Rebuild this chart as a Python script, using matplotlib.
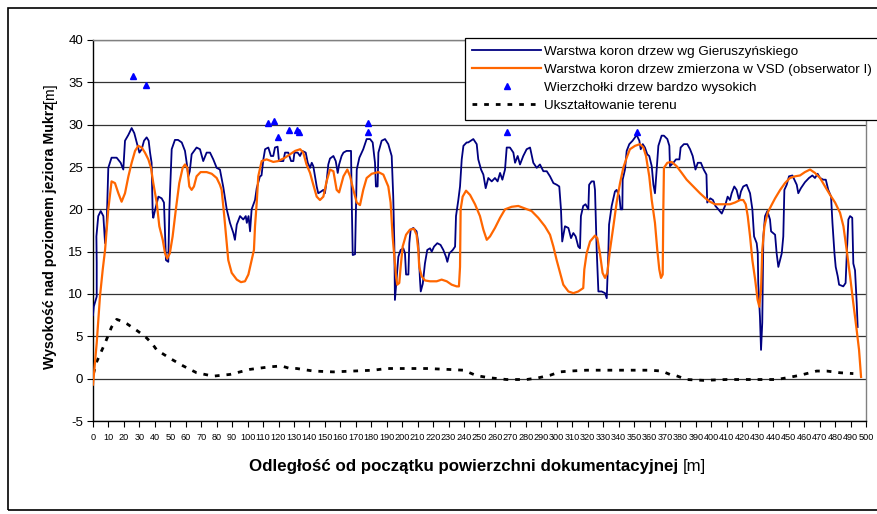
import numpy as np
import matplotlib
matplotlib.use("Agg")
from matplotlib import pyplot as plt
from matplotlib.patches import Rectangle

plt.rcParams['font.family'] = ['Liberation Sans', 'DejaVu Sans']
plt.rcParams['axes.unicode_minus'] = False

# Warstwa koron drzew wg Gieruszyńskiego
blue_x = [0, 0.5, 2.4, 2.4, 2.2, 3.4, 5, 6.7, 7.8, 8.8, 9.9, 12, 15.3, 17.9, 19.6, 20.7, 22.9, 25, 26.7, 28.3,
          30, 31.5, 33, 34.7, 36, 36.9, 37.9, 38.6, 39, 40, 42.3, 44.4, 45.9, 47.2, 48.7, 49.4, 50.9, 53, 55, 57.4,
          59.5, 60.6, 61.7, 62.6, 63.8, 67, 69.2, 71.3, 73.5, 75.7, 77.8, 80, 82.1, 84.3, 86.5, 88.6, 90.8, 91.8, 93, 95.1,
          97.2, 98.8, 99.5, 100.6, 101.6, 102.6, 104.8, 105.9, 108, 109, 110.2, 111.3, 113.4, 115.1, 116.6, 117.7, 119.4, 120.3, 123.1, 124.2,
          126.3, 128.1, 129.6, 130.3, 132.4, 133.9, 135.4, 137.6, 138.9, 140.4, 141.5, 142.5, 143.6, 144.7, 145.7, 147.5, 149, 150, 151.1, 152.2,
          153.3, 155.5, 157, 158.3, 159.2, 160.8, 162, 164, 166.9, 167.3, 168, 169.5, 170.1, 170.6, 172.3, 174.8, 177, 179.2, 180.9, 182.4,
          183, 184.1, 184.6, 186.7, 188.9, 191, 193.2, 194.2, 194.9, 195.3, 196, 197.5, 199, 200.7, 201.8, 202.5, 204, 204.6, 205, 205.5,
          207.2, 209.3, 210.4, 211.5, 212, 213.3, 214.7, 216.2, 218, 219.1, 220.6, 222.7, 224.8, 226.6, 228.3, 229.2, 230.5, 232.7, 234.2, 234.8,
          236.3, 237.4, 238.5, 239.6, 241.7, 242.7, 246, 248.2, 249.2, 251, 252.5, 254, 255.7, 257.9, 260, 261.7, 263.3, 264.8, 266.5, 267.6,
          269.7, 271.9, 273, 274.7, 276.2, 278.3, 280.5, 282.7, 284.8, 287, 289.1, 291.3, 293.5, 295.6, 297.8, 300, 301.6, 302.7, 303.5, 305.3,
          307.5, 309.2, 310.7, 312.2, 313.9, 315, 315.6, 317.1, 318.6, 320.4, 320.9, 322.5, 324, 324.7, 325.8, 326.9, 329, 331.2, 332.3, 333.3,
          333.8, 335.5, 337.6, 338.7, 340.5, 341.3, 342.4, 342.6, 344.1, 345.2, 346.9, 349, 350.6, 351.6, 353.4, 354.3, 355.6, 357, 358.5, 359.8,
          361.4, 362.5, 363.5, 364.6, 365.7, 367.8, 369.3, 371.5, 372.8, 373.2, 375.4, 377.1, 379.3, 380.1, 382.2, 384.4, 386.2, 387.9, 389.7, 391.2,
          393.2, 395, 396.8, 397.3, 399.3, 401, 402.6, 404.5, 406.7, 408.8, 410.5, 412, 413.1, 414.8, 416.3, 417.9, 419.1, 420.6, 422.8, 425,
          426.5, 427.6, 429.3, 430, 430.3, 431.4, 432.1, 432.9, 433.6, 434.7, 436.2, 437.9, 438.6, 441.2, 442.2, 443.3, 445.5, 446.5, 447.2, 448.7,
          450.2, 452.4, 453.7, 455.2, 456.2, 457.9, 460.5, 463.1, 465.3, 467, 468.7, 470.3, 472.4, 474, 475.6, 477.4, 478.3, 479.6, 480.4, 481.7,
          482.6, 485.3, 486.8, 487.5, 488.6, 489.7, 491.1, 491.8, 492.9, 494, 494.6]
blue_y = [7.5, 8.5, 9.7, 13.7, 16.8, 19.2, 19.8, 19.2, 16, 18, 24.9, 26.1, 26.1, 25.5, 24.7, 28.1, 28.8, 29.6, 29, 27.9,
          26.7, 27.1, 28.1, 28.5, 28.1, 26.7, 25.5, 19.6, 19, 19.8, 21.5, 21.3, 20.8, 14, 13.8, 20, 27.1, 28.2, 28.2, 27.9,
          26.9, 25.5, 23.9, 24.5, 26.5, 27.3, 27.1, 25.7, 26.7, 26.7, 25.9, 24.9, 24.7, 22.6, 20, 18.4, 17.2, 16.4, 18.2, 19.2,
          18.8, 19.2, 18.4, 19.2, 17.4, 20, 21.1, 22.5, 23.9, 24, 25.9, 27.1, 27.3, 26.3, 26.3, 27.3, 27.4, 25.7, 25.7, 26.7,
          26.7, 25.7, 25.7, 26.7, 26.7, 26.3, 26.9, 26.7, 25.5, 24.9, 25.5, 25.1, 23.9, 22.7, 21.9, 22.1, 22.3, 21.9, 23.3, 25.3,
          26, 26.3, 25.7, 24.3, 25.3, 26.3, 26.7, 26.9, 26.9, 21.5, 14.6, 14.7, 20, 24.7, 26.1, 27.1, 28.3, 28.3, 27.9, 25.5,
          22.7, 22.7, 26.7, 28.1, 28.3, 27.7, 26.3, 21.5, 16, 9.3, 10.9, 14.4, 15.2, 15.4, 14.8, 12.3, 12.3, 16, 16.8, 17.6,
          17.8, 17.4, 16, 11.7, 10.3, 11.2, 13.6, 15.2, 15.4, 15, 15.6, 16, 15.8, 15.2, 14.4, 13.8, 14.8, 15.2, 15.6, 19.2,
          21.1, 22.7, 25.9, 27.5, 27.9, 27.9, 28.3, 27.7, 25.9, 24.7, 24.1, 22.5, 23.7, 23.3, 23.7, 23.3, 24.3, 23.5, 24.7, 27.3,
          27.3, 26.7, 25.5, 26.3, 25.3, 26.3, 27.1, 27.3, 25.5, 24.9, 25.3, 24.5, 24.5, 23.9, 23.1, 22.9, 22.7, 20, 16.2, 18,
          17.8, 16.6, 17.2, 16.8, 15.6, 15.4, 19.2, 20.4, 20.6, 20, 22.9, 23.3, 23.3, 22.3, 15.2, 10.3, 10.3, 10.1, 9.5, 14.6,
          18.2, 20.4, 22.1, 22.3, 21.5, 20, 20, 23.5, 24.7, 26.9, 27.7, 28.1, 28.5, 28.8, 28.1, 27.1, 27.7, 27.3, 26.5, 26.3,
          25.1, 22.9, 21.9, 24.7, 27.5, 28.7, 28.7, 28.3, 27.5, 25.1, 25.5, 25.9, 25.9, 27.3, 27.7, 27.7, 27.1, 26.3, 24.7, 25.5,
          25.5, 24.7, 24.1, 20.8, 21.3, 21.1, 20.4, 20, 19.5, 20.4, 21.5, 21.1, 21.9, 22.7, 22.3, 21.1, 22.1, 22.7, 22.9, 21.9,
          20, 16.8, 16, 14.8, 11.3, 7.3, 3.4, 6.6, 16.8, 19.2, 19.8, 18.8, 17.4, 17.0, 14.8, 13.2, 14.8, 16.8, 22.3, 22.9,
          23.9, 24, 23.5, 22.9, 21.9, 22.5, 23.2, 23.7, 24, 23.7, 24.2, 23.7, 23.5, 23.5, 22.3, 21.5, 18.4, 14.8, 13.2, 12.1,
          11.1, 10.9, 11.3, 14.4, 18.8, 19.2, 19, 13.6, 12.8, 8.9, 6.1]

# Warstwa koron drzew zmierzona w VSD (obserwator I)
orange_x = [0, 2.4, 4.5, 6.3, 7.8, 9.9, 12, 14.2, 16.4, 18.5, 20.7, 22.9, 25, 27.2, 29.3, 31.5, 33.6, 35.8, 37.5, 39,
            41.2, 42.9, 45.1, 46.6, 48, 49.7, 51.5, 53.6, 55.8, 58, 59.5, 61, 62.3, 63.8, 65.3, 67, 69.6, 73.5, 76.8, 80,
            82.1, 83.2, 84.9, 86.5, 87.5, 89.7, 93, 95.7, 98.3, 100.5, 102.6, 104.1, 104.8, 105.9, 106.9, 109.1, 112.3, 116.6, 119.8, 124.2,
            127.4, 130.7, 134, 136, 138.1, 140.4, 142.5, 144.7, 146.8, 149, 151.1, 153.3, 155.5, 157.6, 159.2, 160.8, 162, 164.5, 166.3, 168.4,
            170.6, 172.7, 174.8, 177, 180.3, 184.6, 187.8, 191, 192.5, 193.8, 194.9, 196, 196.8, 198.1, 199, 200.3, 202.5, 205, 207.6, 209.3,
            210.4, 211, 212.6, 214.7, 218, 222.3, 225.5, 228.8, 232, 235.2, 236.7, 237.4, 237.8, 239.1, 241.3, 243.9, 247.1, 250.3, 252.5, 254.7,
            256.8, 260, 263.3, 266.5, 270.8, 275.1, 279.4, 283.7, 288, 292.3, 295.6, 297.8, 299.9, 302.1, 304.2, 307.5, 310.7, 313.9, 317.1, 317.8,
            319.3, 321.5, 324.7, 326.2, 327.9, 329.6, 331.2, 332.7, 334.4, 336.6, 338.7, 340.9, 343, 345.2, 347.3, 350.6, 353.8, 356, 357.7, 359.8,
            361.4, 363.5, 365, 366.3, 367.4, 368.5, 368.9, 369.3, 371.5, 374.3, 377.5, 380.8, 384, 388.3, 392.6, 396.2, 399.1, 402.3, 406.7, 412,
            415.2, 418.5, 420.6, 422.2, 423.5, 425, 426.5, 428.3, 429.9, 431, 432.1, 432.9, 434.3, 436.4, 438.6, 441.2, 444.5, 447.6, 450.8, 454.1,
            457.3, 460.5, 463.8, 467, 470.3, 473.5, 476.8, 480, 483.2, 485.4, 487.5, 489.7, 491.8, 494, 495.5, 496.8]
orange_y = [-0.7, 4.2, 9.7, 12.9, 15.2, 20, 23.3, 23.1, 21.9, 20.9, 21.9, 23.9, 25.5, 26.9, 27.5, 27.3, 26.7, 25.9, 24.9, 23.1,
            20.8, 18, 16.4, 14.8, 14.2, 14.8, 16.8, 20, 23.1, 24.9, 25.3, 24.9, 22.7, 22.3, 22.7, 23.9, 24.4, 24.4, 24.2, 23.7,
            22.9, 22.3, 19.2, 16, 14, 12.5, 11.7, 11.4, 11.5, 12.3, 14, 15.2, 18, 20.8, 23.9, 25.7, 25.9, 25.6, 25.7, 26.1,
            26.5, 26.9, 27.1, 26.7, 25.3, 24.3, 22.9, 21.5, 21.1, 21.5, 23.3, 24.7, 24.5, 22.3, 22, 23.1, 23.9, 24.7, 23.9, 22.3,
            20.8, 20.5, 22.3, 23.7, 24.2, 24.4, 24.1, 22.7, 20.8, 16.8, 14.4, 12.1, 11.1, 11.3, 13.2, 15.6, 17, 17.6, 17.7, 17,
            15.2, 13.2, 12.1, 11.6, 11.5, 11.5, 11.7, 11.5, 11.1, 10.9, 10.9, 13.2, 20, 21.5, 22.2, 21.7, 20.6, 19.2, 17.6, 16.4,
            16.8, 17.8, 19, 20, 20.3, 20.4, 20.1, 19.8, 19, 18, 17, 15.6, 14, 12.5, 11.1, 10.3, 10.1, 10.3, 10.7, 12.9,
            14.8, 16.2, 16.9, 16.6, 14.8, 12.5, 11.9, 12.5, 15.2, 18, 20.8, 23.1, 24.9, 26.1, 27.1, 27.5, 27.7, 27.3, 26.3, 23.9,
            21.1, 18.4, 15.2, 12.9, 11.9, 12.3, 20, 24.9, 25.5, 25.6, 25.1, 24.3, 23.5, 22.7, 21.9, 21.3, 20.9, 20.6, 20.6, 20.6,
            20.8, 21.1, 21.1, 20.6, 19.2, 16.8, 14, 11.7, 9.3, 8.5, 10.5, 15.2, 18, 19.6, 20.4, 21.3, 22.3, 23.1, 23.7, 23.9,
            24, 24.4, 24.7, 24.3, 23.7, 22.7, 21.7, 20.8, 19.6, 18, 15.2, 12.1, 8.9, 5.7, 3.4, 0.2]

# Wierzchołki drzew bardzo wysokich
peaks_x = [25.9, 34.3, 113.4, 117.3, 119.5, 126.8, 131.8, 133.2, 178, 178, 268, 352.1]
peaks_y = [35.8, 34.7, 30.2, 30.4, 28.5, 29.4, 29.4, 29.1, 30.2, 29.1, 29.1, 29.1]

# Ukształtowanie terenu
terrain_x = [0.3, 2.4, 7.8, 12, 15.3, 18.5, 21.8, 28.3, 33.6, 38, 41.2, 49.8, 58.4, 67, 77.8, 88.6, 101.6, 114.5, 122, 127.4,
             131.8, 142.5, 155.4, 168.4, 181.3, 190, 203, 215.8, 228.8, 239.6, 248.2, 256.8, 267.6, 280.5, 288, 295.6, 302, 308.5, 319.3, 334.4,
             347.3, 360.3, 367.8, 373.2, 376.5, 384, 394.8, 409.9, 425, 442.2, 448.7, 457.3, 468.1, 474.6, 483.2, 491.8]
terrain_y = [0.6, 2, 4.2, 6.1, 7, 6.8, 6.5, 5.7, 5, 4.2, 3.4, 2.4, 1.5, 0.7, 0.3, 0.5, 1.1, 1.4, 1.5, 1.2,
             1.2, 0.9, 0.8, 0.9, 1, 1.2, 1.2, 1.2, 1.1, 1, 0.35, 0.1, -0.1, -0.1, 0.1, 0.4, 0.8, 0.9, 1, 1,
             1, 1, 0.9, 0.5, 0.4, -0.1, -0.2, -0.1, -0.1, -0.1, 0.1, 0.4, 0.9, 0.9, 0.7, 0.6]

W, H = 878, 514
fig = plt.figure(figsize=(W / 100, H / 100), dpi=100)
ax = fig.add_axes([93 / W, 1 - 421 / H, 773 / W, 381 / H])

ax.plot(blue_x, blue_y, color='#000080', lw=1.3, label='Warstwa koron drzew wg Gieruszyńskiego', zorder=3)
ax.plot(orange_x, orange_y, color='#FF6600', lw=1.6, label='Warstwa koron drzew zmierzona w VSD (obserwator I)', zorder=4)
ax.plot(peaks_x, peaks_y, ls='none', marker='^', ms=4.5, color='#0000FF',
        label='Wierzchołki drzew bardzo wysokich', zorder=5)
ax.plot(terrain_x, terrain_y, color='black', lw=2, dashes=(1.7, 2.5), label='Ukształtowanie terenu', zorder=3)

ax.set_xlim(0, 500)
ax.set_ylim(-5, 40)
ax.set_xticks(np.arange(0, 501, 10))
ax.set_yticks(np.arange(-5, 41, 5))
ax.tick_params(axis='x', labelsize=6.6, direction='out', length=4, width=0.8, pad=5)
ax.tick_params(axis='y', labelsize=9.5, direction='out', length=4, width=0.8, pad=3)
ax.yaxis.grid(True, color='#333333', lw=0.9)
ax.set_axisbelow(True)
for s in ['left', 'bottom']:
    ax.spines[s].set_color('black')
    ax.spines[s].set_linewidth(1)
for s in ['top', 'right']:
    ax.spines[s].set_color('#808080')
    ax.spines[s].set_linewidth(1)

# axis labels, bold with regular [m]
xl = fig.text(478 / W - 0.014, 1 - 467 / H, 'Odległość od początku powierzchni dokumentacyjnej ',
              ha='center', va='center', fontsize=12.2, fontweight='bold')
ax.annotate('[m]', xy=(1, 0), xycoords=xl, ha='left', va='bottom', fontsize=12.2)
yl = fig.text(50 / W, 1 - 236 / H, 'Wysokość nad poziomem jeziora Mukrz',
              ha='center', va='center', rotation=90, fontsize=10.2, fontweight='bold')
ax.annotate('[m]', xy=(0.5, 1), xycoords=yl, ha='center', va='bottom', rotation=90, fontsize=10.2)

leg = ax.legend(loc='upper left', bbox_to_anchor=(465 / W, 1 - 38 / H), bbox_transform=fig.transFigure,
                fontsize=9.7, frameon=True, fancybox=False, edgecolor='black', framealpha=1,
                handlelength=5.1, handletextpad=0.22, labelspacing=0.42, borderpad=0.55,
                numpoints=1, borderaxespad=0)
leg.get_frame().set_linewidth(0.9)

fig.patches.append(Rectangle((8 / W, 1 - 510 / H), 2.0, 502 / H, transform=fig.transFigure,
                             fill=False, edgecolor='black', lw=1.2))

fig.savefig('out.png', dpi=100)
